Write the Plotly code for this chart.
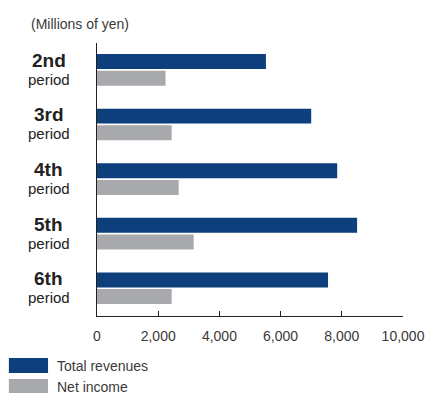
import plotly.graph_objects as go

# Fiscal periods and results (millions of yen)
periods = ["2nd", "3rd", "4th", "5th", "6th"]
total_revenues = [5520, 7000, 7850, 8500, 7550]
net_income = [2240, 2440, 2670, 3160, 2440]
x_ticks = [0, 2000, 4000, 6000, 8000, 10000]
x_tick_labels = ["0", "2,000", "4,000", "6,000", "8,000", "10,000"]

BLUE = "#0c3f7c"
GRAY = "#a7a9ac"
INK = "#231f20"
TEXT = "#3a3a3a"
FONT = "Liberation Sans, Arial, sans-serif"
NARROW = "Liberation Sans Narrow, Liberation Sans, Arial, sans-serif"

fig = go.Figure()
fig.add_trace(go.Bar(
    y=periods, x=total_revenues, orientation="h", name="Total revenues",
    marker=dict(color=BLUE, line=dict(width=0)), width=0.274, offset=-0.298,
))
fig.add_trace(go.Bar(
    y=periods, x=net_income, orientation="h", name="Net income",
    marker=dict(color=GRAY, line=dict(width=0)), width=0.275, offset=0.007,
))

annotations = []
# Two-line category labels, centred
for p in periods:
    annotations.append(dict(
        x=-0.157, y=p, xref="paper", yref="y", xanchor="center", yanchor="middle",
        text="<b>%s</b>" % p, showarrow=False, yshift=10,
        font=dict(family=NARROW, size=19, color="#222222"),
    ))
    annotations.append(dict(
        x=-0.157, y=p, xref="paper", yref="y", xanchor="center", yanchor="middle",
        text="period", showarrow=False, yshift=-9,
        font=dict(family=NARROW, size=15, color="#222222"),
    ))

# Unit note
annotations.append(dict(
    x=-0.2224, y=1.071, xref="paper", yref="paper", xanchor="left", yanchor="middle",
    text="(Millions of yen)", showarrow=False,
    font=dict(family=FONT, size=14, color=TEXT),
))

# Legend drawn below the axis
legend_items = [("Total revenues", BLUE, -0.154, -0.209), ("Net income", GRAY, -0.231, -0.286)]
shapes = []
for label, color, y0, y1 in legend_items:
    shapes.append(dict(
        type="rect", xref="paper", yref="paper", x0=-0.288, x1=-0.160, y0=y1, y1=y0,
        fillcolor=color, line=dict(width=0),
    ))
    annotations.append(dict(
        x=-0.137, y=(y0 + y1) / 2, xref="paper", yref="paper", xanchor="left", yanchor="middle",
        text=label, showarrow=False, font=dict(family=FONT, size=14, color=TEXT),
    ))

fig.update_layout(
    width=426, height=393,
    margin=dict(l=97, r=23, t=43, b=77, autoexpand=False),
    paper_bgcolor="white", plot_bgcolor="white",
    showlegend=False, barmode="overlay",
    annotations=annotations, shapes=shapes,
    font=dict(family=FONT, size=14, color=TEXT),
)
fig.update_xaxes(
    range=[0, 10000], tickvals=x_ticks, ticktext=x_tick_labels, automargin=False,
    showgrid=False, zeroline=False, showline=True, linecolor=INK, linewidth=1,
    ticks="inside", ticklen=5, tickcolor=INK, tickwidth=1, ticklabelstandoff=7,
    tickfont=dict(family=FONT, size=14, color=TEXT),
)
fig.update_yaxes(
    type="category", range=[4.5, -0.5], showticklabels=False, automargin=False,
    showgrid=False, zeroline=False, showline=True, linecolor=INK, linewidth=1, ticks="",
)

fig.write_html("out.html")
